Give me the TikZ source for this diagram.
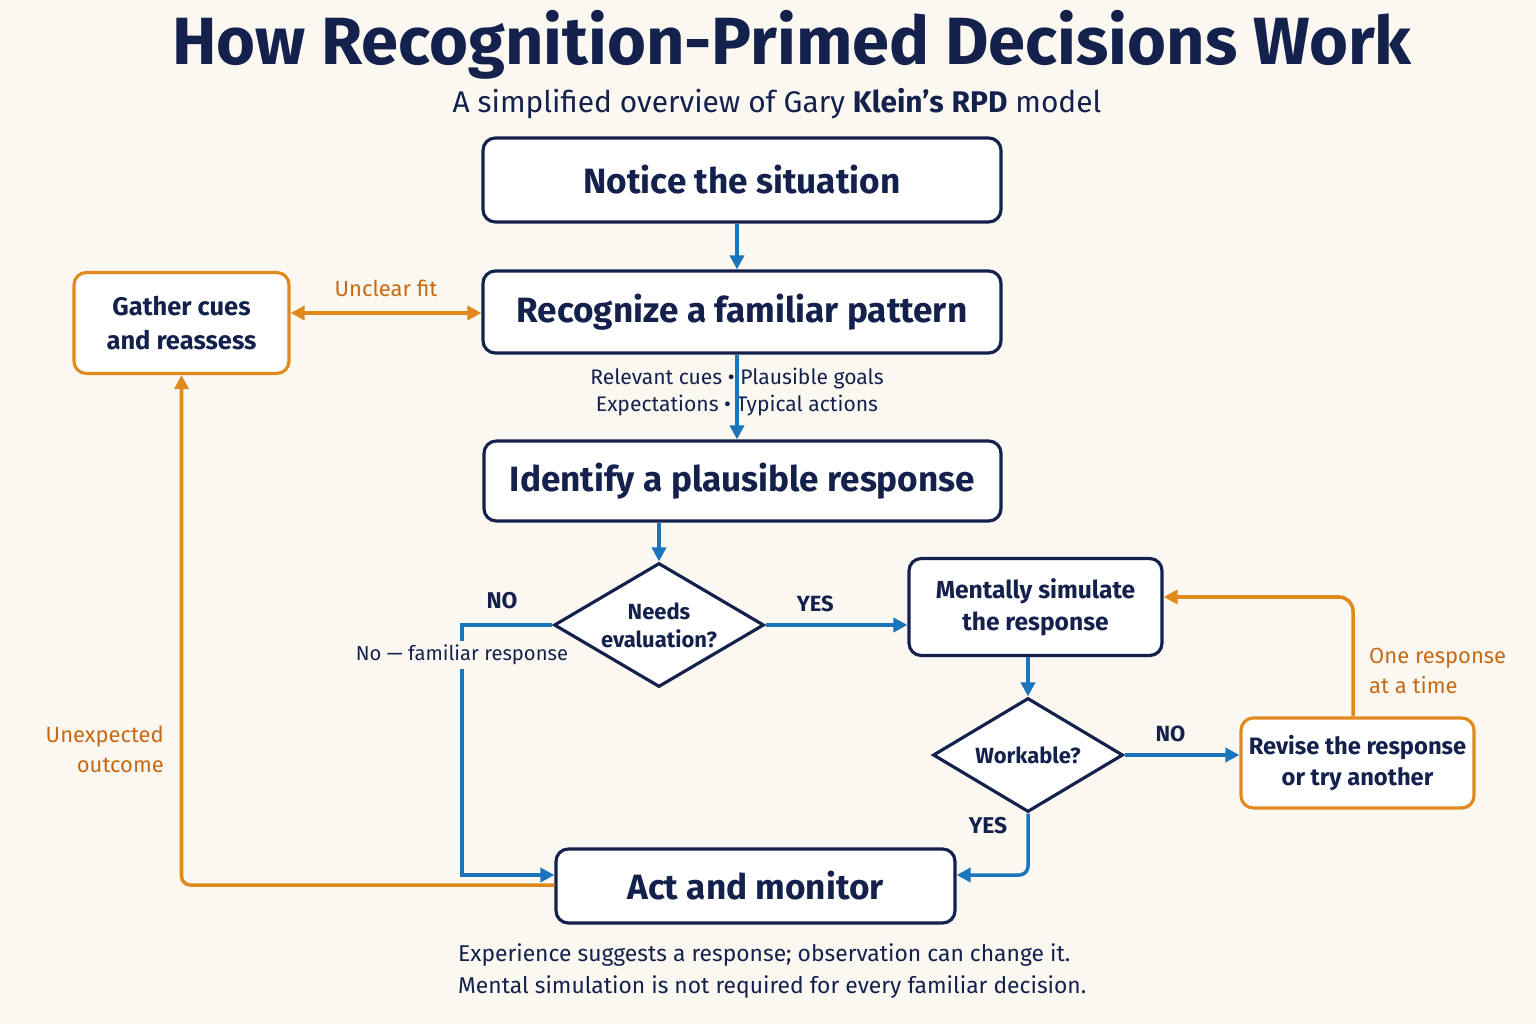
\documentclass[tikz,border=0pt]{standalone}
\usepackage{fontspec}
\setmainfont{Fira Sans}
\usepackage{tikz}
\usetikzlibrary{shapes.geometric,arrows.meta,positioning}
\definecolor{navy}{HTML}{14214D}
\definecolor{flowblue}{HTML}{1A75BB}
\definecolor{flowora}{HTML}{E08A1E}
\definecolor{oratext}{HTML}{C86A12}
\definecolor{paper}{HTML}{FBF8F2}
\tikzset{
  stepbox/.style={draw=navy, line width=1.8pt, rounded corners=7pt, fill=white, text=navy, font=\bfseries\fontsize{20}{24}\selectfont},
  sidebox/.style={draw=flowora, line width=1.8pt, rounded corners=7pt, fill=white, text=navy, align=center, font=\bfseries\fontsize{13.5}{18}\selectfont},
  choice/.style={diamond, draw=navy, line width=1.8pt, fill=white, text=navy, align=center, aspect=1.7, inner sep=1pt, font=\bfseries\fontsize{12.5}{16}\selectfont},
  bluearrow/.style={draw=flowblue, line width=2pt, -{Triangle[length=8pt,width=8pt]}},
  oraarrow/.style={draw=flowora, line width=2pt, -{Triangle[length=8pt,width=8pt]}},
  lbl/.style={text=navy, font=\fontsize{12.5}{16}\selectfont},
  olbl/.style={text=oratext, font=\fontsize{12.5}{17}\selectfont}
}
\begin{document}
\begin{tikzpicture}
  \fill[paper] (0,0) rectangle (30.72,20.48);
  \useasboundingbox (0,0) rectangle (30.72,20.48);

  % Title
  \node[text=navy, font=\bfseries\fontsize{38}{42}\selectfont] (title) at (15.84,19.58) {How Recognition-Primed Decisions Work};
  \node[text=navy, font=\fontsize{17}{20}\selectfont] (subtitle) at (15.54,18.40) {A simplified overview of Gary \textbf{Klein’s} \textbf{RPD} model};

  % Main steps
  \node[stepbox, minimum width=10.36cm, minimum height=1.68cm] (notice) at (14.84,16.88) {Notice the situation};
  \node[stepbox, minimum width=10.36cm, minimum height=1.64cm] (recog) at (14.84,14.24) {Recognize a familiar pattern};
  \node[lbl, align=center, font=\fontsize{12}{15}\selectfont] (cues) at (14.74,12.64) {Relevant cues • Plausible goals\\Expectations • Typical actions};
  \node[stepbox, minimum width=10.34cm, minimum height=1.60cm] (ident) at (14.85,10.86) {Identify a plausible response};
  \node[sidebox, font=\bfseries\fontsize{14.5}{19}\selectfont, minimum width=4.30cm, minimum height=2.02cm] (gather) at (3.63,14.02) {Gather cues\\and reassess};
  \node[choice, minimum width=4.2cm, minimum height=2.48cm] (needs) at (13.18,7.98) {Needs\\evaluation?};
  \node[stepbox, align=center, font=\bfseries\fontsize{14}{18}\selectfont, minimum width=5.06cm, minimum height=1.94cm] (simul) at (20.71,8.34) {Mentally simulate\\the response};
  \node[choice, minimum width=3.8cm, minimum height=2.28cm] (work) at (20.56,5.38) {Workable?};
  \node[sidebox, minimum width=4.66cm, minimum height=1.80cm] (revise) at (27.15,5.22) {Revise the response\\or try another};
  \node[stepbox, minimum width=7.98cm, minimum height=1.48cm] (act) at (15.11,2.76) {Act and monitor};

  % Connectors
  \draw[bluearrow] (notice.south -| 14.74,0) -- (recog.north -| 14.74,0);
  \draw[bluearrow] (recog.south -| 14.74,0) -- (ident.north -| 14.74,0);
  \draw[oraarrow, {Triangle[length=8pt,width=8pt]}-{Triangle[length=8pt,width=8pt]}] (gather.east |- 0,14.22) -- node[olbl, above=5pt] {Unclear fit} (recog.west |- 0,14.22);
  \draw[bluearrow] (ident.south -| needs.north) -- (needs.north);
  \draw[bluearrow] (needs.east) -- node[lbl, above=3pt, pos=0.35] {\textbf{YES}} (simul.west |- needs.east);
  \draw[bluearrow] (needs.west) -- (9.24,7.98) -- node[lbl, fill=paper, inner sep=2pt, pos=0.12, font=\fontsize{11.5}{14}\selectfont] {No — familiar response} (9.24,2.98) -- (act.west |- 0,2.98);
  \node[lbl, font=\bfseries\fontsize{13}{16}\selectfont] (nolbl) at (10.04,8.46) {NO};
  \draw[bluearrow] (simul.south -| work.north) -- (work.north);
  \draw[bluearrow] (work.east) -- node[lbl, above=3pt, pos=0.4] {\textbf{NO}} (revise.west |- work.east);
  \draw[bluearrow, rounded corners=5pt] (work.south) -- (20.56,2.98) -- (act.east |- 0,2.98);
  \node[lbl, font=\bfseries\fontsize{13}{16}\selectfont] (yeslbl) at (19.76,3.96) {YES};
  \draw[oraarrow, rounded corners=8pt] (revise.north -| 27.06,0) -- (27.06,8.54) -- (simul.east |- 0,8.54);
  \node[olbl, align=left, anchor=west] (onelbl) at (27.26,7.06) {One response\\at a time};
  \draw[oraarrow, rounded corners=5pt] (act.west |- 0,2.78) -- (3.63,2.78) -- (gather.south);
  \node[olbl, align=right, anchor=east] (unexp) at (3.40,5.50) {Unexpected\\outcome};

  % Footer
  \node[lbl, align=left, anchor=north west, font=\fontsize{13}{18.5}\selectfont] (foot) at (9.04,1.74) {Experience suggests a response; observation can change it.\\Mental simulation is not required for every familiar decision.};
\end{tikzpicture}
\end{document}
